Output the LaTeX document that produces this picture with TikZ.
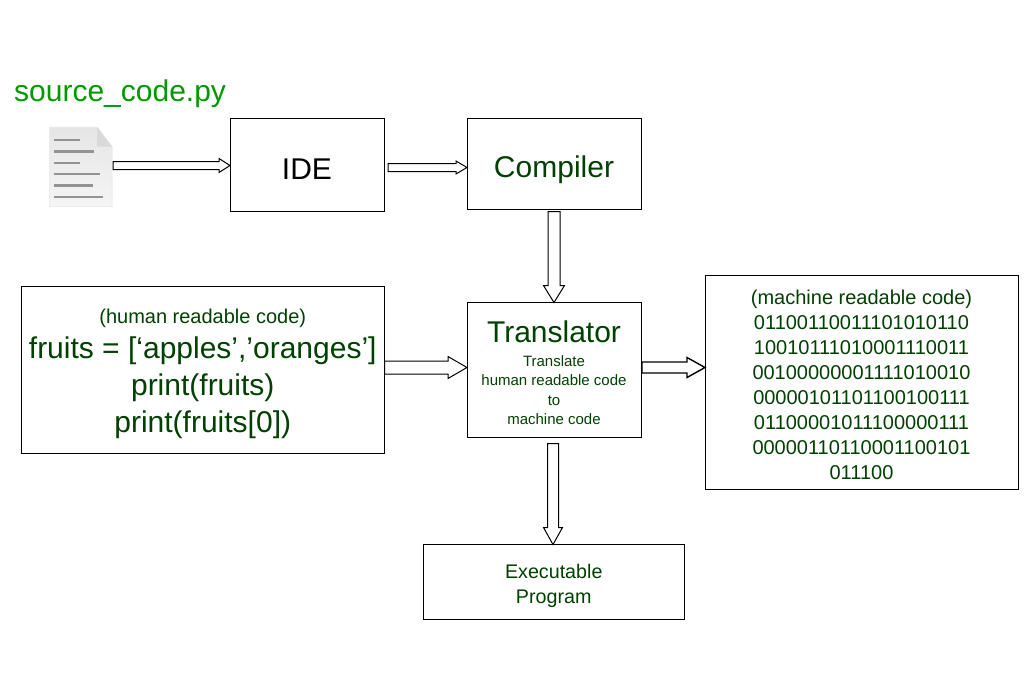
\documentclass[tikz,border=0pt]{standalone}
\usepackage{fontspec}
\setmainfont{Liberation Sans}
\usetikzlibrary{calc}
\definecolor{codegreen}{RGB}{0,64,0}
\definecolor{filegreen}{RGB}{0,153,0}
\tikzset{
    stagebox/.style={draw=black, line width=1pt, inner sep=0pt, outer sep=0pt, align=center, text=codegreen},
    blockarrow/.style n args={3}{draw=black, fill=white, line width=1pt, to path={
        ($(\tikztotarget)!#3pt!(\tikztostart)$) coordinate (headbase)
        ($(\tikztostart)!#1pt!-90:(\tikztotarget)$)
        -- ($(headbase)!#1pt!-90:(\tikztotarget)$)
        -- ($(headbase)!#2pt!-90:(\tikztotarget)$)
        -- (\tikztotarget)
        -- ($(headbase)!#2pt!90:(\tikztotarget)$)
        -- ($(headbase)!#1pt!90:(\tikztotarget)$)
        -- ($(\tikztostart)!#1pt!90:(\tikztotarget)$)
        -- cycle}},
    docline/.style={draw=gray!85, line width=2.5pt}
}
\newcommand{\pxfont}[2]{\fontsize{#1}{#2}\selectfont}
\begin{document}
\begin{tikzpicture}[x=1pt, y=-1pt]
    \useasboundingbox (0,0.5) rectangle (1027,685.5);

    \node[anchor=base west, inner sep=0pt, text=filegreen, font=\pxfont{30}{36}] (filename) at (14,101.5) {source\_code.py};

    % file icon
    \path[draw=gray!15, line width=1pt, top color=gray!20, bottom color=gray!8]
        (49.5,127.5) -- (97,127.5) -- (112,147) -- (112,207) -- (49.5,207) -- cycle;
    \path[fill=gray!30] (97,127.5) -- (112,147) -- (97,147) -- cycle;
    \draw[docline] (54,140.5) -- (80,140.5);
    \draw[docline] (54,152) -- (94,152);
    \draw[docline] (54,163.5) -- (80,163.5);
    \draw[docline] (54,174.5) -- (100,174.5);
    \draw[docline] (54,186) -- (93,186);
    \draw[docline] (54,197.5) -- (103,197.5);
    \coordinate (fileout) at (113,166);

    \node[stagebox, minimum width=154pt, minimum height=93pt, text=black, font=\pxfont{30}{36}] (ide) at (307,165.5) {\raisebox{-14pt}[0pt][0pt]{IDE}};
    \node[stagebox, minimum width=174pt, minimum height=91pt, font=\pxfont{30}{36}] (compiler) at (554,164.5) {\raisebox{-13.5pt}[0pt][0pt]{Compiler}};
    \node[stagebox, minimum width=363.5pt, minimum height=167pt, font=\pxfont{30}{37}] (source) at (202.75,370.5)
        {\rule{0pt}{21.6pt}\pxfont{20}{37}(human readable code)\\[-2pt]
         \pxfont{30}{37}fruits = [‘apples’,’oranges’]\\
         \pxfont{30}{37}print(fruits)\\
         \pxfont{30}{37}print(fruits[0])};
    \node[stagebox, minimum width=174pt, minimum height=135pt, font=\pxfont{15}{19.5}] (translator) at (554,370.5)
        {\rule{0pt}{27.5pt}\pxfont{30}{34}Translator\\[4pt]
         \pxfont{15}{19.5}Translate\\
         human readable code\\
         to\\
         machine code};
    \node[stagebox, minimum width=313pt, minimum height=214pt, font=\pxfont{20}{25}] (machine) at (861.5,383)
        {\rule{0pt}{19.6pt}(machine readable code)\\
         01100110011101010110\\
         10010111010001110011\\
         00100000001111010010\\
         00000101101100100111\\
         01100001011100000111\\
         00000110110001100101\\
         011100};
    \node[stagebox, minimum width=261.5pt, minimum height=75pt, font=\pxfont{19.7}{25}] (program) at (553.75,582.5)
        {\rule{0pt}{21.4pt}Executable\\Program};

    \draw[blockarrow={4}{7}{11}] (fileout) to ([shift={(0,0.5)}]ide.west);
    \draw[blockarrow={4}{6.5}{11}] ([shift={(4,2.5)}]ide.east) to ([shift={(0,3.5)}]compiler.west);
    \draw[blockarrow={6}{10.5}{17}] ([shift={(0,2)}]compiler.south) to (translator.north);
    \draw[blockarrow={6.5}{11}{19}] ([shift={(0,-2.5)}]source.east) to ([shift={(0,-2.5)}]translator.west);
    \draw[blockarrow={5.5}{10}{18}, line width=1.4pt] ([shift={(1,-2.5)}]translator.east) to ([shift={(0,-15)}]machine.west);
    \draw[blockarrow={5.5}{9.5}{17}] ([shift={(-1,6)}]translator.south) to ([shift={(-0.75,0)}]program.north);
\end{tikzpicture}
\end{document}
